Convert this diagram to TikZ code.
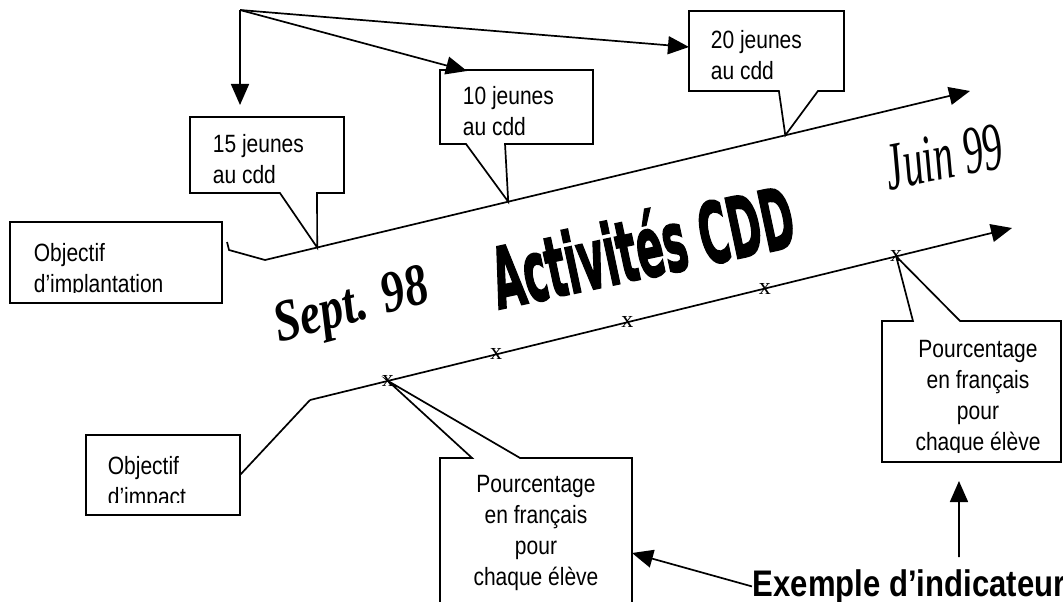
\documentclass[tikz,border=0pt]{standalone}
\usepackage{fontspec}
\setmainfont{Liberation Sans}[FakeStretch=0.84]
\newfontfamily\timesfont{Liberation Serif}
\newfontfamily\artfont{DejaVu Sans}[FakeBold=2.5]
\usetikzlibrary{arrows.meta,calc}

\tikzset{
  lbl/.style={anchor=north west, inner sep=0pt, align=left, font=\fontsize{25}{31}\selectfont},
  pct/.style={anchor=north, inner sep=0pt, align=center, font=\fontsize{25}{31}\selectfont},
  frame/.style={anchor=north west, inner sep=0pt, outer sep=0pt},
  arr/.style={-{Triangle[length=21pt,width=18pt]}},
  xmark/.style={inner sep=0pt, font=\timesfont\fontsize{24}{24}\selectfont},
  art/.style={inner sep=0pt, font=\artfont\bfseries\fontsize{40}{40}\selectfont}
}

\begin{document}
\begin{tikzpicture}[x=1pt,y=-1pt,line width=1.7pt]
\useasboundingbox (0,0) rectangle (1063,602);

% titles
\node[art, rotate=12, yscale=2.1] (activ) at (642,245) {Activités CDD};
\node[inner sep=0pt, rotate=15, yscale=1.25, font=\timesfont\bfseries\itshape\fontsize{47}{47}\selectfont] (sept) at (352,309) {Sept. 98};
\node[inner sep=0pt, rotate=11, yscale=1.7, font=\timesfont\itshape\fontsize{40}{40}\selectfont] (juin) at (944,157) {Juin 99};

% implantation line
\coordinate (impA) at (265,260);
\coordinate (impB) at (970,91);
\draw[arr] (impA) -- (impB) coordinate[pos=0.074] (t15) coordinate[pos=0.345] (t10) coordinate[pos=0.738] (t20);

% impact line
\coordinate (objA) at (310,400);
\coordinate (objB) at (1012,228);
\draw[arr] (objA) -- (objB)
  node[xmark, pos=0.111] (x1) {x}
  node[xmark, pos=0.265] (x2) {x}
  node[xmark, pos=0.452] (x3) {x}
  node[xmark, pos=0.648] (x4) {x}
  node[xmark, pos=0.835] (x5) {x};

% callouts on top
\node[frame, minimum width=154pt, minimum height=76pt] (box15) at (190,117) {};
\draw (box15.south west) -- (box15.north west) -- (box15.north east) -- (box15.south east)
  -- ($(box15.south west)!0.825!(box15.south east)$) -- (t15)
  -- ($(box15.south west)!0.584!(box15.south east)$) -- cycle;
\node[lbl] (txt15) at (212,133.1) {15 jeunes\\au cdd};

\node[frame, minimum width=153pt, minimum height=74pt] (box10) at (440,70) {};
\draw (box10.south west) -- (box10.north west) -- (box10.north east) -- (box10.south east)
  -- ($(box10.south west)!0.425!(box10.south east)$) -- (t10)
  -- ($(box10.south west)!0.17!(box10.south east)$) -- cycle;
\node[lbl] (txt10) at (462,85.1) {10 jeunes\\au cdd};

\node[frame, minimum width=155pt, minimum height=80pt] (box20) at (689,11) {};
\draw (box20.south west) -- (box20.north west) -- (box20.north east) -- (box20.south east)
  -- ($(box20.south west)!0.832!(box20.south east)$) -- (t20)
  -- ($(box20.south west)!0.58!(box20.south east)$) -- cycle;
\node[lbl] (txt20) at (710,29.1) {20 jeunes\\au cdd};

% arrows from the top
\coordinate (src) at (240,10);
\draw[arr] (src) -- ($(box15.north west)+(50,-12)$);
\draw[arr] (src) -- ($(box10.north west)+(27,1)$);
\draw[arr] (src) -- ($(box20.north west)+(0,36)$);

% objectif boxes
\node[frame, draw, minimum width=212pt, minimum height=81pt] (implant) at (10,222) {};
\begin{scope}
\clip (implant.north west) rectangle ($(implant.south east)+(0,-11)$);
\node[lbl] (txtimplant) at (33,242.1) {Objectif\\d’implantation};
\end{scope}
\draw ($(implant.north east)+(5,20)$) -- ++(2,8) -- (impA);

\node[frame, draw, minimum width=154pt, minimum height=80pt] (impact) at (86,435) {};
\begin{scope}
\clip (impact.north west) rectangle ($(impact.south east)+(0,-13)$);
\node[lbl] (txtimpact) at (107,455.1) {Objectif\\d’impact};
\end{scope}
\draw (impact.east) -- (objA);

% pourcentage callouts
\node[frame, minimum width=192pt, minimum height=170pt] (pct1) at (440,458) {};
\draw (pct1.north west) -- ($(pct1.north west)!0.167!(pct1.north east)$) -- (x1.center)
  -- ($(pct1.north west)!0.417!(pct1.north east)$) -- (pct1.north east)
  -- (pct1.south east) -- (pct1.south west) -- cycle;
\node[pct] (txtpct1) at (536,474.1) {Pourcentage\\en français\\pour\\chaque élève};

\node[frame, minimum width=179pt, minimum height=141pt] (pct2) at (882,321) {};
\draw (pct2.north west) -- ($(pct2.north west)!0.173!(pct2.north east)$) -- (x5.center)
  -- ($(pct2.north west)!0.436!(pct2.north east)$) -- (pct2.north east)
  -- (pct2.south east) -- (pct2.south west) -- cycle;
\begin{scope}
\clip (pct2.north west) rectangle ($(pct2.south east)+(0,-10)$);
\node[pct] (txtpct2) at (978,339.1) {Pourcentage\\en français\\pour\\chaque élève};
\end{scope}

% exemple
\node[anchor=base west, inner sep=0pt, font=\bfseries\fontsize{37}{37}\selectfont] (exemple) at (752,596) {Exemple d’indicateurs};
\draw[arr] (exemple.west) -- ($(pct1.north east)+(0,95)$);
\coordinate (ex2) at (959,557);
\draw[arr] (ex2) -- ($(pct2.south west)!0.43!(pct2.south east)+(0,19)$);

\end{tikzpicture}
\end{document}
